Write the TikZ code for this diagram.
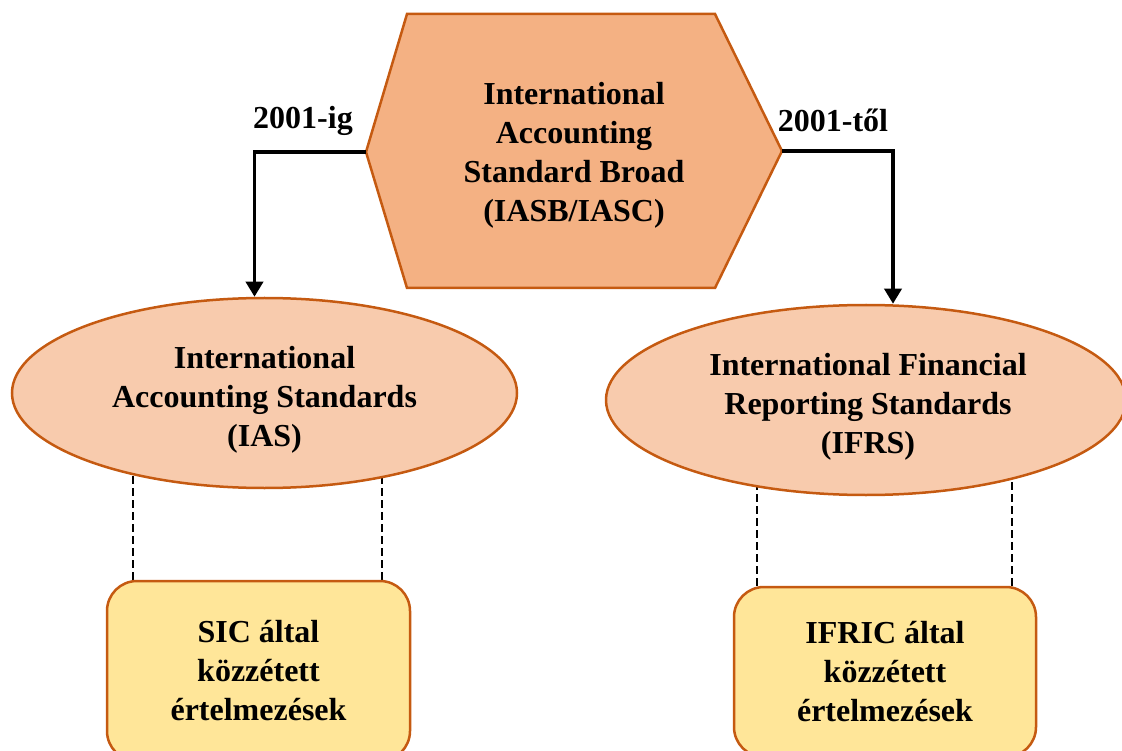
\documentclass[tikz,border=0pt]{standalone}
\usepackage{fontspec}
\setmainfont{Liberation Serif}
\usetikzlibrary{shapes.geometric,arrows.meta,calc}
\definecolor{hexfill}{HTML}{F4B183}
\definecolor{ellfill}{HTML}{F8CBAD}
\definecolor{boxfill}{HTML}{FFE699}
\definecolor{bordc}{HTML}{C55A11}
\pgfdeclarelayer{bg}
\pgfsetlayers{bg,main}
\tikzset{
  txt/.style={font=\fontsize{32}{39}\selectfont\bfseries, align=center, text=black},
  ell/.style={ellipse, draw=bordc, fill=ellfill, line width=2.5pt, inner sep=0pt},
  interp/.style={txt, rectangle, rounded corners=30pt, draw=bordc, fill=boxfill, line width=2.5pt, inner sep=0pt},
  conn/.style={line width=3.5pt, -{Triangle[width=17pt,length=15pt]}},
  dline/.style={line width=1.5pt, dash pattern=on 8pt off 4pt},
}
\begin{document}
\begin{tikzpicture}[x=1pt,y=-1pt]
\useasboundingbox (0,0) rectangle (1122,751);
% hexagon
\coordinate (hexL) at (366,152);
\coordinate (hexR) at (782,151);
\coordinate (hexTL) at (407,14);
\coordinate (hexTR) at (715,14);
\coordinate (hexBR) at (715,288);
\coordinate (hexBL) at (407,288);
\draw[draw=bordc, fill=hexfill, line width=2.5pt, line join=miter]
  (hexL) -- (hexTL) -- (hexTR) -- (hexR) -- (hexBR) -- (hexBL) -- cycle;
\node[txt] (hex) at (574,155) {International\\Accounting\\Standard Broad\\(IASB/IASC)};
% ellipses
\node[ell, minimum width=505pt, minimum height=190pt] (ias) at (264.5,393) {};
\node[txt] (iastext) at (264.5,400) {International\\Accounting Standards\\(IAS)};
\node[ell, minimum width=520pt, minimum height=190pt] (ifrs) at (866,400) {};
\node[txt] (ifrstext) at (868,407) {International Financial\\Reporting Standards\\(IFRS)};
% boxes
\node[interp, minimum width=303pt, minimum height=180pt] (sic) at (258.5,671) {SIC által\\közzétett\\értelmezések};
\node[interp, minimum width=302pt, minimum height=170pt] (ifric) at (885,672) {IFRIC által\\közzétett\\értelmezések};
% arrows
\draw[conn] (hexL) -| ([xshift=-10pt]ias.north);
\draw[conn] (hexR) -| ([xshift=27pt]ifrs.north);
\node[txt, anchor=center] (lab1) at (303,121) {2001-ig};
\node[txt, anchor=center] (lab2) at (833,120) {2001-től};
% dashed lines
\begin{pgfonlayer}{bg}
\draw[dline] ([xshift=-125.5pt]sic.north) -- ([xshift=-125.5pt]sic.north |- ias.center);
\draw[dline] ([xshift=123.5pt]sic.north) -- ([xshift=123.5pt]sic.north |- ias.center);
\draw[dline] ([xshift=-128pt]ifric.north) -- ([xshift=-128pt]ifric.north |- ifrs.center);
\draw[dline] ([xshift=127pt]ifric.north) -- ([xshift=127pt]ifric.north |- ifrs.center);
\end{pgfonlayer}
\end{tikzpicture}
\end{document}
